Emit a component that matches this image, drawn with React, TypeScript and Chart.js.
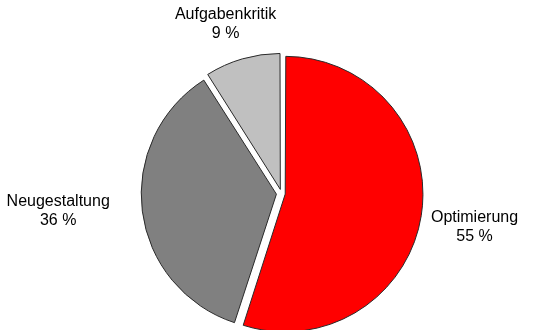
import React, { useEffect, useRef } from "react";
import { Chart, registerables } from "chart.js";

Chart.register(...registerables);

const categories = ["Optimierung", "Neugestaltung", "Aufgabenkritik"];
const values = [55, 36, 9];
const percentLabels = ["55 %", "36 %", "9 %"];
const colors = ["#FF0000", "#808080", "#C0C0C0"];
// explode offsets (Chart.js scales the translation by slice size)
const offsets = [15, 20.5, 17];
// label placement: distance from centre and small angle nudge (degrees)
const labelDistance = [196, 224, 178];
const labelAngleNudge = [1, 2.7, -2.1];

const labelPlugin = {
  id: "outsideLabels",
  afterDraw(chart: any) {
    const ctx = chart.ctx;
    const meta = chart.getDatasetMeta(0);
    ctx.save();
    ctx.font = '16px "Liberation Sans", Arial, sans-serif';
    ctx.fillStyle = "#000";
    ctx.textAlign = "center";
    ctx.textBaseline = "middle";
    meta.data.forEach((arc: any, i: number) => {
      const mid = (arc.startAngle + arc.endAngle) / 2 + (labelAngleNudge[i] * Math.PI) / 180;
      const cx = arc.x + Math.cos(mid) * labelDistance[i];
      const cy = arc.y + Math.sin(mid) * labelDistance[i];
      const lh = 19;
      ctx.fillText(categories[i], cx, cy - lh / 2);
      ctx.fillText(percentLabels[i], cx, cy + lh / 2);
    });
    ctx.restore();
  },
};

export default function App() {
  const ref = useRef<HTMLCanvasElement | null>(null);
  useEffect(() => {
    if (!ref.current) return;
    const chart = new Chart(ref.current, {
      type: "pie",
      data: {
        labels: categories,
        datasets: [
          {
            data: values,
            backgroundColor: colors,
            borderColor: "#2a2a2a",
            borderWidth: 1,
            offset: offsets,
            hoverOffset: 0,
          } as any,
        ],
      },
      options: {
        animation: false,
        responsive: true,
        maintainAspectRatio: false,
        radius: 134,
        layout: { padding: { left: 6, top: 57, right: 0, bottom: 0 } },
        plugins: {
          legend: { display: false },
          tooltip: { enabled: false },
        },
        events: [],
      } as any,
      plugins: [labelPlugin],
    });
    return () => chart.destroy();
  }, []);
  return (
    <div style={{ position: "fixed", left: 0, top: 0, width: 557, height: 330, background: "#fff" }}>
      <canvas ref={ref} />
    </div>
  );
}
